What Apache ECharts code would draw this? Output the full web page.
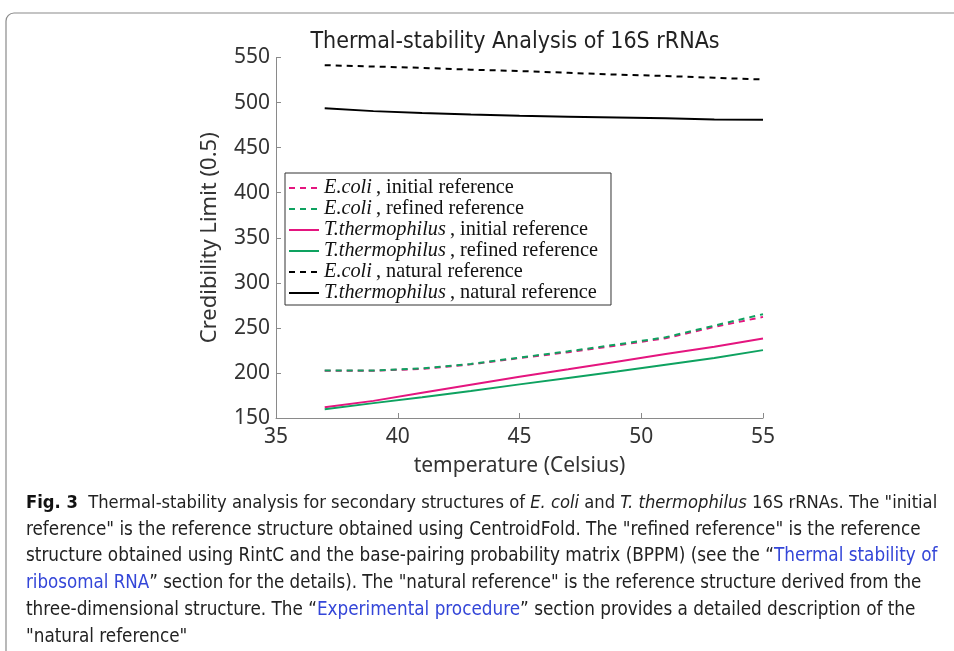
<!DOCTYPE html>
<html>
<head>
<meta charset="utf-8">
<script src="https://cdn.jsdelivr.net/npm/echarts@6/dist/echarts.min.js"></script>
<style>
html,body{margin:0;padding:0;background:#fff;}
#chart{width:954px;height:651px;}
</style>
</head>
<body>
<div id="chart"></div>
<script>
// ---- data ----
var temps = [37, 39, 41, 43, 45, 47, 49, 51, 53, 55];
var ecoliInitial   = [202.4, 202.4, 204.5, 209.5, 216.5, 223.0, 230.5, 238.5, 251.0, 262.2];
var ecoliRefined   = [202.6, 202.6, 205.0, 210.0, 217.0, 224.0, 231.5, 239.5, 252.5, 265.2];
var thermInitial   = [161.8, 169.0, 178.0, 187.0, 195.8, 204.0, 212.5, 221.0, 229.0, 238.3];
var thermRefined   = [159.6, 166.5, 173.0, 180.0, 187.3, 194.5, 201.5, 209.0, 216.5, 225.3];
var ecoliNatural   = [541.5, 540.0, 538.5, 536.5, 535.0, 533.0, 531.0, 529.5, 527.5, 525.6];
var thermNatural   = [493.8, 490.5, 488.5, 486.8, 485.3, 484.3, 483.4, 482.5, 481.3, 481.0];
var xTicks = [35, 40, 45, 50, 55];
var yTicks = [150, 200, 250, 300, 350, 400, 450, 500, 550];

var seriesNames = ['ecI', 'ecR', 'ttI', 'ttR', 'ecN', 'ttN'];
var legendLabels = {
  ecI: '{i|E.coli}\u2009, initial reference',
  ecR: '{i|E.coli}\u2009, refined reference',
  ttI: '{i|T.thermophilus}\u2009, initial reference',
  ttR: '{i|T.thermophilus}\u2009, refined reference',
  ecN: '{i|E.coli}\u2009, natural reference',
  ttN: '{i|T.thermophilus}\u2009, natural reference'
};

// caption lines as segments: [style, text]
var captionLines = [
  [['b', 'Fig. 3'], ['', '  Thermal-stability analysis for secondary structures of '], ['i', 'E. coli'], ['', ' and '], ['i', 'T. thermophilus'], ['', ' 16S rRNAs. The "initial']],
  [['', 'reference" is the reference structure obtained using CentroidFold. The "refined reference" is the reference']],
  [['', 'structure obtained using RintC and the base-pairing probability matrix (BPPM) (see the \u201c'], ['l', 'Thermal stability of']],
  [['l', 'ribosomal RNA'], ['', '\u201d section for the details). The "natural reference" is the reference structure derived from the']],
  [['', 'three-dimensional structure. The \u201c'], ['l', 'Experimental procedure'], ['', '\u201d section provides a detailed description of the']],
  [['', '"natural reference"']]
];
var captionRight = [938, 921, 938, 922, 916, null];
var titleText = 'Thermal-stability Analysis of 16S rRNAs';

// ---- font helpers ----
var cv = document.createElement('canvas').getContext('2d');
function measure(str, font) { cv.font = font; return cv.measureText(str).width; }
function available(name) {
  var s = 'abcdefghijklmnopqrstuvwxyzABCDEFGHIJ0123456789';
  var a = measure(s, '72px monospace'), b = measure(s, '72px "' + name + '", monospace');
  var c = measure(s, '72px serif'), d = measure(s, '72px "' + name + '", serif');
  return a !== b || c !== d;
}
var narrowCandidates = ['Liberation Sans Narrow', 'DejaVu Sans Condensed', 'Roboto Condensed', 'Open Sans Condensed', 'Noto Sans'];
var capFont = 'Noto Sans';
for (var k = 0; k < narrowCandidates.length; k++) { if (available(narrowCandidates[k])) { capFont = narrowCandidates[k]; break; } }
function segFont(st, size) {
  var pre = st === 'b' ? 'bold ' : (st === 'i' ? 'italic ' : '');
  return pre + size + 'px "' + capFont + '"';
}
function lineWidth(segs, size) {
  var w = 0;
  segs.forEach(function (s) { w += measure(s[1], segFont(s[0], size)); });
  return w;
}
var capLeft = 26;
var capSizes = captionLines.map(function (segs, i) {
  if (captionRight[i] == null) return null;
  var s = 100 * (captionRight[i] - capLeft) / lineWidth(segs, 100);
  return Math.min(s, 20);
});
capSizes[5] = capSizes[1];
var titleSize = Math.min(23, 100 * 410 / measure(titleText, '100px "' + capFont + '"'));

var axisFont = 'Noto Sans';
var pink = '#e4157f', green = '#0ea260', black = '#000000';

function mk(name, data, color, dashed) {
  return {
    name: name, type: 'line', showSymbol: false, symbol: 'none', smooth: false,
    data: temps.map(function (t, i) { return [t, data[i]]; }),
    lineStyle: { color: color, width: 2, type: dashed ? [6, 5] : 'solid' },
    itemStyle: { color: color },
    emphasis: { disabled: true }, animation: false
  };
}

var captionGraphics = captionLines.map(function (segs, i) {
  var size = capSizes[i];
  var txt = segs.map(function (s) { return s[0] ? '{' + s[0] + '|' + s[1] + '}' : s[1]; }).join('');
  return {
    type: 'text', x: capLeft, y: 503 + i * 26.8,
    style: {
      text: txt, fill: '#222', font: size + 'px "' + capFont + '"', verticalAlign: 'middle', align: 'left',
      rich: {
        b: { fontWeight: 'bold', fontSize: size, fontFamily: capFont, fill: '#111' },
        i: { fontStyle: 'italic', fontSize: size, fontFamily: capFont, fill: '#222' },
        l: { fontSize: size, fontFamily: capFont, fill: '#3446d8' }
      }
    }
  };
});

var chart = echarts.init(document.getElementById('chart'), null, { renderer: 'canvas' });
chart.setOption({
  animation: false,
  backgroundColor: '#fff',
  grid: { left: 276, top: 57.5, width: 487, height: 360.5 },
  xAxis: {
    type: 'value', min: 35, max: 55, interval: 5,
    name: 'temperature (Celsius)', nameLocation: 'middle', nameGap: 38,
    nameTextStyle: { fontFamily: axisFont, fontSize: 21, color: '#333' },
    axisLine: { show: true, lineStyle: { color: '#8a8a8a', width: 1 } },
    axisTick: { show: true, inside: true, length: 5, lineStyle: { color: '#8a8a8a' } },
    axisLabel: { fontFamily: axisFont, fontSize: 21, color: '#333', margin: 9,
      formatter: function (v) { return xTicks.indexOf(v) >= 0 ? String(v) : ''; } },
    splitLine: { show: false }
  },
  yAxis: {
    type: 'value', min: 150, max: 550, interval: 50,
    name: 'Credibility Limit (0.5)', nameLocation: 'middle', nameGap: 55, nameRotate: 90,
    nameTextStyle: { fontFamily: axisFont, fontSize: 22, color: '#333' },
    axisLine: { show: true, lineStyle: { color: '#8a8a8a', width: 1 } },
    axisTick: { show: true, inside: true, length: 5, lineStyle: { color: '#8a8a8a' } },
    axisLabel: { fontFamily: axisFont, fontSize: 21, color: '#333', margin: 6,
      formatter: function (v) { return yTicks.indexOf(v) >= 0 ? String(v) : ''; } },
    splitLine: { show: false }
  },
  legend: {
    orient: 'vertical', left: 285, top: 173,
    data: seriesNames,
    itemWidth: 30, itemHeight: 12, itemGap: -3.0,
    padding: [3, 13, 0, 3],
    borderColor: '#333', borderWidth: 1, backgroundColor: '#fff',
    formatter: function (n) { return legendLabels[n]; },
    selectedMode: false,
    itemStyle: { opacity: 0, borderWidth: 0 },
    textStyle: {
      fontFamily: 'Liberation Serif', fontSize: 20.3, color: '#111', lineHeight: 24,
      rich: { i: { fontStyle: 'italic', fontFamily: 'Liberation Serif', fontSize: 20.3, color: '#111', lineHeight: 24 } }
    }
  },
  graphic: [
    { type: 'rect', shape: { x: 6, y: 13, width: 1100, height: 800, r: 8 },
      style: { fill: 'none', stroke: '#8a8a8a', lineWidth: 1.2 }, silent: true, z: -1 },
    { type: 'text', x: 515, y: 42,
      style: { text: titleText, font: titleSize + 'px "' + capFont + '"', fill: '#222', align: 'center', verticalAlign: 'middle' } }
  ].concat(captionGraphics),
  series: [
    mk('ecI', ecoliInitial, pink, true),
    mk('ecR', ecoliRefined, green, true),
    mk('ttI', thermInitial, pink, false),
    mk('ttR', thermRefined, green, false),
    mk('ecN', ecoliNatural, black, true),
    mk('ttN', thermNatural, black, false)
  ]
});
</script>
</body>
</html>
